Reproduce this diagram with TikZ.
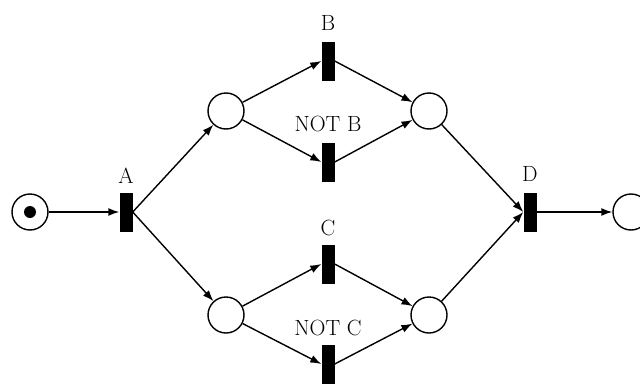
\documentclass[tikz,border=0pt]{standalone}
\usetikzlibrary{arrows.meta}
\begin{document}
\begin{tikzpicture}[x=1pt,y=-1pt,
 place/.style={circle,draw,line width=1.4pt,minimum size=36pt,inner sep=0pt},
 trans/.style={rectangle,fill=black,minimum width=13pt,minimum height=39pt,inner sep=0pt},
 lbl/.style={font=\fontsize{22}{26}\selectfont,inner sep=0pt},
 arc/.style={line width=1.4pt,-{Latex[length=11pt,width=8pt]}}]
\useasboundingbox (0,0) rectangle (640,383);
\clip (0,0) rectangle (640,383);
\node[place] (p0) at (30,212) {};
\fill (p0.center) circle (6);
\node[trans] (tA) at (126,212) {};
\node[lbl] (lA) at (126,176) {A};
\node[place] (p1) at (226,111) {};
\node[place] (p2) at (226,315) {};
\node[trans] (tB) at (328,61) {};
\node[lbl] (lB) at (328,23) {B};
\node[trans] (tNB) at (328,162) {};
\node[lbl] (lNB) at (328,124) {NOT B};
\node[trans] (tC) at (328,264) {};
\node[lbl] (lC) at (328,228) {C};
\node[trans] (tNC) at (328,364) {};
\node[lbl] (lNC) at (328,328) {NOT C};
\node[place] (p3) at (429,111) {};
\node[place] (p4) at (429,315) {};
\node[trans] (tD) at (530,212) {};
\node[lbl] (lD) at (530,174) {D};
\node[place] (p5) at (631,212) {};
\draw[arc] (p0) -- (tA.west);
\draw[arc] (tA.east) -- (p1);
\draw[arc] (tA.east) -- (p2);
\draw[arc] (p1) -- (tB.west);
\draw[arc] (p1) -- (tNB.west);
\draw[arc] (tB.east) -- (p3);
\draw[arc] (tNB.east) -- (p3);
\draw[arc] (p2) -- (tC.west);
\draw[arc] (p2) -- (tNC.west);
\draw[arc] (tC.east) -- (p4);
\draw[arc] (tNC.east) -- (p4);
\draw[arc] (p3) -- (tD.west);
\draw[arc] (p4) -- (tD.west);
\draw[arc] (tD.east) -- (p5);
\end{tikzpicture}
\end{document}
